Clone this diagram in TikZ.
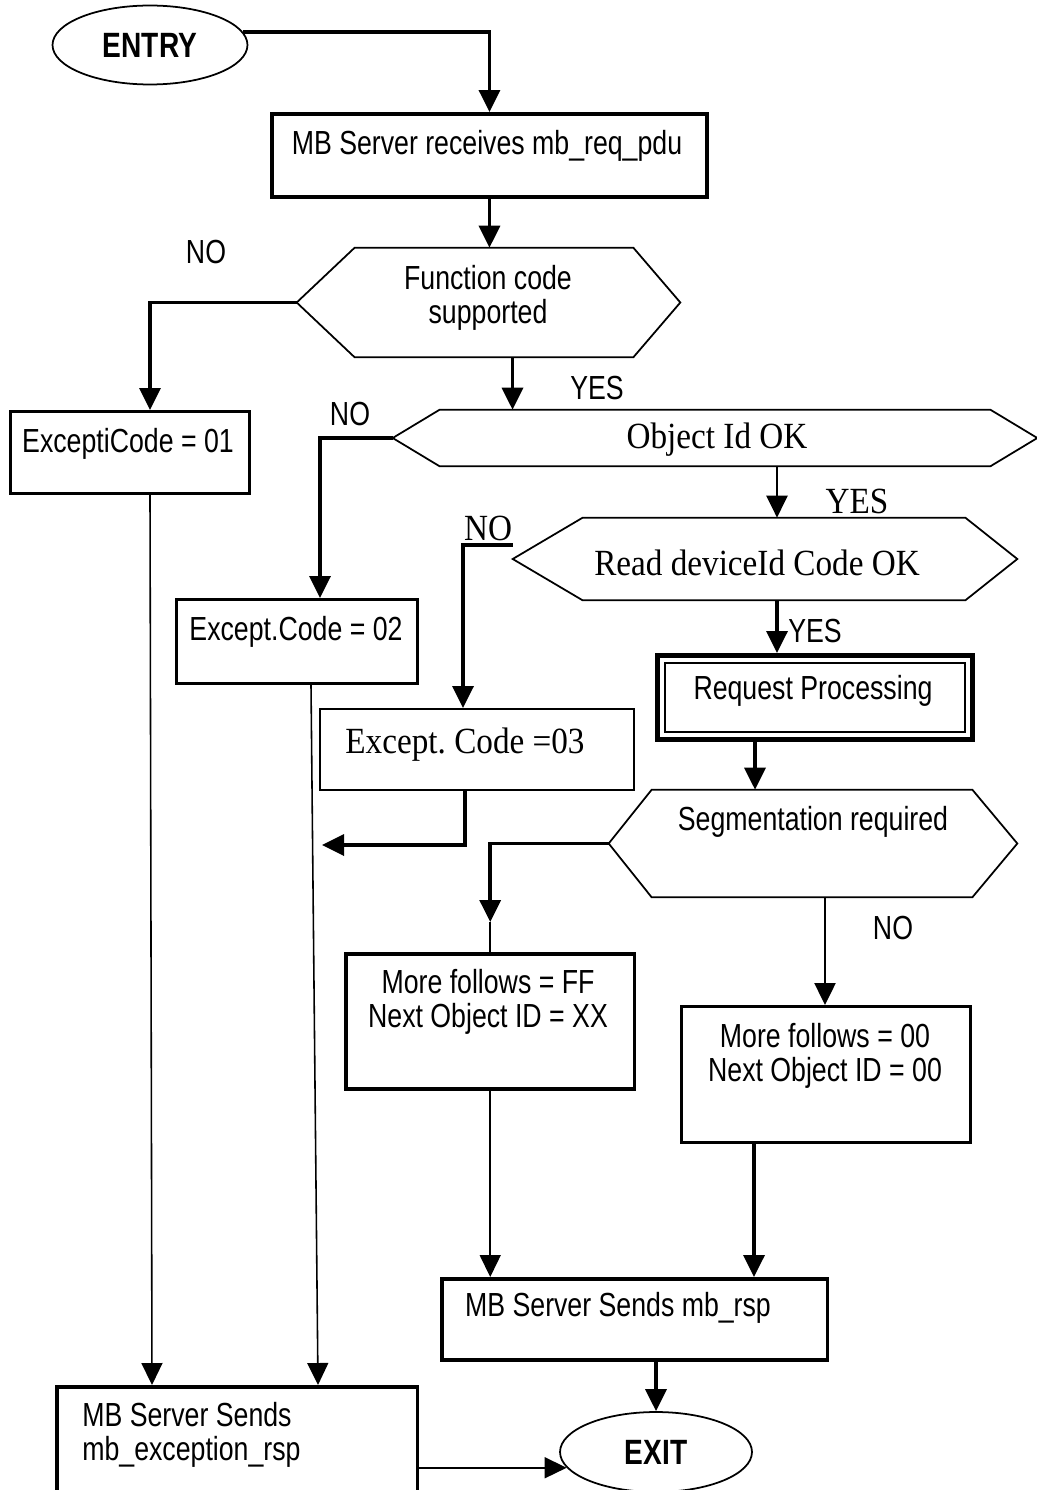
\documentclass[tikz,border=0pt]{standalone}
\usepackage{fontspec}
\setmainfont{Liberation Sans}[FakeStretch=0.8]
\newfontfamily\tms{Liberation Serif}[FakeStretch=0.9]
\usepackage{tikz}
\usetikzlibrary{arrows.meta,shapes.geometric}

\newcommand{\hexout}[3]{\draw[line width=1pt] (#1.west) -- ([shift={(#2,0)}]#1.north west) -- ([shift={(-#3,0)}]#1.north east) -- (#1.east) -- ([shift={(-#3,0)}]#1.south east) -- ([shift={(#2,0)}]#1.south west) -- cycle;}

\begin{document}
\begin{tikzpicture}[x=0.02cm, y=-0.02cm,
  >={Triangle[length=0.44cm,width=0.42cm]},
  every node/.style={font=\fontsize{19}{19.5}\selectfont},
  serif/.style={font=\tms\fontsize{21}{24}\selectfont},
  box/.style={draw, anchor=north west, inner sep=0pt},
  hex/.style={draw=none, inner sep=0pt},
  oval/.style={draw, ellipse, line width=1pt, inner sep=0pt, font=\bfseries\fontsize{20}{20}\selectfont},
  flowthin/.style={line width=0.9pt},
  flowmid/.style={line width=1.4pt},
  flowthick/.style={line width=2pt}]
             \useasboundingbox (0,0) rectangle (1037,1490);

             \node[oval, minimum width=3.9cm, minimum height=1.58cm] (entry) at (150,45) {ENTRY};
             \node[box, line width=2.3pt, minimum width=8.7cm, minimum height=1.66cm] (rcv) at (270,112) {};
             \node (rcvtxt) at (487,146) {MB Server receives mb\_req\_pdu};

             \node[hex, minimum width=7.66cm, minimum height=2.18cm] (fc) at (488.5,302.5) {};
             \hexout{fc}{58}{47}
             \node[align=center] (fctxt) at (488,298) {Function code\\supported};
             \node (fcno) at (206,252) {NO};
             \node (fcyes) at (597,388) {YES};

             \node[box, line width=1.8pt, minimum width=4.78cm, minimum height=1.64cm] (e1) at (9,410) {};
             \node (e1txt) at (128,444) {ExceptiCode = 01};

             \node[hex, minimum width=12.88cm, minimum height=1.12cm] (oid) at (715,438) {};
             \hexout{oid}{47}{47}
             \node[serif] (oidtxt) at (717,440) {Object Id OK};
             \node (oidno) at (350,414) {NO};
             \node[serif] (oidyes) at (857,501) {YES};

             \node[box, line width=1.8pt, minimum width=4.82cm, minimum height=1.68cm] (e2) at (175,598) {};
             \node (e2txt) at (296,632) {Except.Code = 02};

             \node[hex, minimum width=10.08cm, minimum height=1.64cm] (rdc) at (765,559) {};
             \hexout{rdc}{70}{52}
             \node[serif] (rdctxt) at (757,563) {Read deviceId Code OK};
             \node[serif] (rdcno) at (488,528) {NO};
             \node (rdcyes) at (815,631) {YES};

             \node[box, line width=1.3pt, minimum width=6.28cm, minimum height=1.62cm] (e3) at (319,708) {};
             \node[serif] (e3txt) at (465,745) {Except.\ Code =03};

             \node[box, line width=3pt, minimum width=6.3cm, minimum height=1.68cm] (rp) at (655,653) {};
             \draw[line width=1.2pt] ([shift={(10,10)}]rp.north west) rectangle ([shift={(-10,-10)}]rp.south east);
             \node (rptxt) at (813,691) {Request Processing};

             \node[hex, minimum width=8.16cm, minimum height=2.14cm] (seg) at (813,843.5) {};
             \hexout{seg}{43}{45}
             \node (segtxt) at (813,822) {Segmentation required};
             \node (segno) at (893,928) {NO};

             \node[box, line width=2pt, minimum width=5.78cm, minimum height=2.7cm] (ff) at (344,952) {};
             \node[align=center] (fftxt) at (488,1002) {More follows = FF\\Next Object ID = XX};

             \node[box, line width=1.6pt, minimum width=5.78cm, minimum height=2.72cm] (f0) at (680,1005) {};
             \node[align=center] (f0txt) at (825,1056) {More follows = 00\\Next Object ID = 00};

             \node[box, line width=2pt, minimum width=7.72cm, minimum height=1.62cm] (rsp) at (440,1277) {};
             \node (rsptxt) at (618,1308) {MB Server Sends mb\_rsp};

             \node[oval, minimum width=3.84cm, minimum height=1.6cm] (exit) at (656,1452) {EXIT};

             \node[box, line width=2pt, minimum width=7.22cm, minimum height=2.1cm] (exc) at (55,1385) {};
             \node[align=left, anchor=west, inner sep=0pt] (exctxt) at (82,1435) {MB Server Sends\\mb\_exception\_rsp};

             \draw[flowthick,->] (entry.8) -| (rcv.north);
             \draw[flowthick,->] (rcv.south) -- (rcv.south |- fc.north);
             \draw[flowthick,->] (fc.west) -| ([shift={(141,0)}]e1.north west);
             \coordinate (fcdown) at ([shift={(24,0)}]fc.south);
             \draw[flowthick,->] (fcdown) -- (fcdown |- oid.north);
             \draw[flowthin,->] ([shift={(141,0)}]e1.south west) -- ([shift={(97,0)}]exc.north west);

             \draw[flowthick,->] (oid.west) -| ([shift={(145,0)}]e2.north west);
             \coordinate (oiddown) at ([shift={(62,0)}]oid.south);
             \draw[flowmid,->] (oiddown) -- (oiddown |- rdc.north);
             \draw[flowthin,->] ([shift={(136,0)}]e2.south west) -- ([shift={(263,0)}]exc.north west);

             \draw[flowthick,->] ([shift={(0,-14)}]rdc.west) -| ([shift={(144,0)}]e3.north west);
             \coordinate (rdcdown) at ([shift={(12,0)}]rdc.south);
             \draw[flowthick,->] (rdcdown) -- (rdcdown |- rp.north);
             \coordinate (e3end) at (322,845);
             \draw[flowthick,->] ([shift={(146,0)}]e3.south west) |- (e3end);

             \coordinate (rpdown) at ([shift={(100,0)}]rp.south west);
             \draw[flowthick,->] (rpdown) -- (rpdown |- seg.north);
             \coordinate (ffin) at ([shift={(0,-30)}]ff.north);
             \draw[flowthick,->] (seg.west) -| (ffin);
             \draw[flowthin] (ffin) -- (ff.north);
             \coordinate (segdown) at ([shift={(12,0)}]seg.south);
             \draw[flowmid,->] (segdown) -- (segdown |- f0.north);

             \draw[flowthin,->] (ff.south) -- (ff.south |- rsp.north);
             \coordinate (f0down) at ([shift={(74,0)}]f0.south west);
             \draw[flowthick,->] (f0down) -- (f0down |- rsp.north);
             \coordinate (rspdown) at ([shift={(216,0)}]rsp.south west);
             \draw[flowthick,->] (rspdown) -- (rspdown |- exit.north);
             \draw[flowthin,->] (exc.east |- exit.190) -- (exit.190);
\end{tikzpicture}
\end{document}
